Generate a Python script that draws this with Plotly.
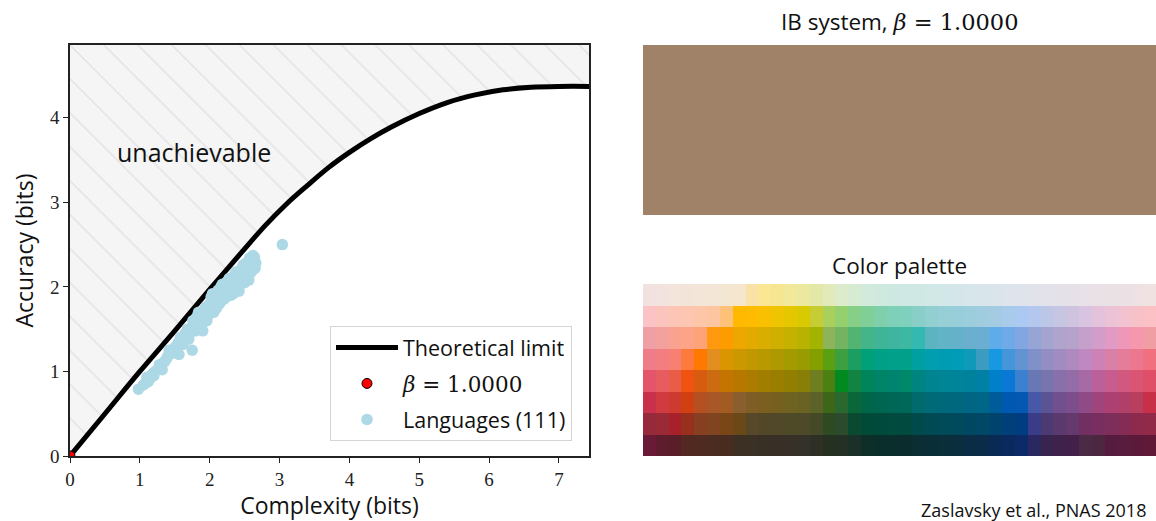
import plotly.graph_objects as go

# ---------------- data ----------------
curve_complexity = [0.0, 0.5, 1.0, 1.5, 2.0, 2.5, 2.8, 3.1, 3.4, 3.7, 4.0, 4.3, 4.6, 5.0, 5.4, 5.8, 6.2, 6.6, 7.0, 7.5]
curve_accuracy = [0.0, 0.5, 1.0, 1.48, 1.97, 2.45, 2.73, 2.98, 3.20, 3.41, 3.59, 3.75, 3.89, 4.05, 4.18, 4.27, 4.33, 4.36, 4.37, 4.37]

lang_complexity = [0.98, 1.05, 1.12, 1.10, 1.18, 1.25, 1.30, 1.33, 1.38, 1.28, 1.45, 1.50, 1.42, 1.55, 1.58, 1.62, 1.52,
                   1.75, 1.65, 1.68, 1.72, 1.78, 1.80, 1.85, 1.88, 1.90, 1.82, 1.92, 1.95, 1.98, 2.00, 2.02, 2.05, 2.08,
                   2.10, 2.12, 2.15, 2.18, 2.20, 2.22, 2.25, 2.28, 2.30, 2.32, 2.35, 2.38, 2.40, 2.42, 2.45, 2.48, 2.50,
                   2.52, 2.55, 2.58, 2.60, 2.62, 2.64, 2.66, 2.58, 2.55, 3.04, 1.15, 1.22, 1.36, 1.48, 1.60, 1.70, 1.76,
                   1.86, 1.96, 2.04, 2.06, 2.14, 2.16, 2.24, 2.26, 2.34, 2.36, 2.44, 2.46, 2.52, 2.56, 2.60, 2.63, 2.65,
                   2.50, 2.40, 2.30, 2.20, 2.10, 2.00, 1.90, 1.80, 1.70, 1.62, 1.56, 1.40, 1.32, 1.20, 1.08, 2.18, 2.28,
                   2.38, 2.48, 2.57, 2.62, 2.12, 2.02, 1.94, 1.84, 2.35]
lang_accuracy = [0.79, 0.84, 0.88, 0.93, 0.97, 1.02, 1.06, 1.10, 1.15, 1.08, 1.21, 1.28, 1.25, 1.34, 1.40, 1.38, 1.30,
                 1.25, 1.45, 1.50, 1.47, 1.52, 1.58, 1.55, 1.62, 1.48, 1.65, 1.70, 1.66, 1.75, 1.80, 1.72, 1.85, 1.78,
                 1.90, 1.83, 1.95, 1.88, 1.98, 1.92, 2.02, 1.95, 2.08, 2.00, 2.12, 2.05, 2.15, 1.95, 2.18, 2.10, 2.22,
                 2.15, 2.25, 2.20, 2.30, 2.25, 2.35, 2.28, 2.32, 2.12, 2.50, 0.92, 1.00, 1.12, 1.24, 1.36, 1.42, 1.60,
                 1.68, 1.60, 1.92, 1.70, 1.80, 2.00, 1.88, 2.06, 1.92, 2.15, 2.08, 2.22, 2.28, 2.08, 2.18, 2.32, 2.22,
                 2.05, 2.00, 1.90, 1.85, 1.75, 1.68, 1.58, 1.48, 1.38, 1.32, 1.20, 1.18, 1.02, 0.95, 0.86, 2.03, 2.10,
                 2.18, 2.26, 2.34, 2.37, 1.96, 1.88, 1.76, 1.70, 1.97]

ib_complexity = [0.0]
ib_accuracy = [0.0]
ib_system_color = "#a08269"

x_tick_values = [0, 1, 2, 3, 4, 5, 6, 7]
y_tick_values = [0, 1, 2, 3, 4]
X_MAX = 7.43
Y_MAX = 4.86

palette_row_B = ["#f1e2e0", "#f2e3df", "#f3e4dc", "#f3e4da", "#f3e5d8", "#f4e6d6", "#f3e6d3", "#f5e6cd", "#f8e2a8", "#fbe694",
                 "#f6e692", "#f2e899", "#ebe8a0", "#e3e8a6", "#e1eab8", "#dbebcb", "#d6ebd2", "#d2eadb", "#cfe9df", "#cde8e0",
                 "#cfe8e3", "#d0e8e4", "#d1e8e6", "#d2e7e8", "#d4e6ea", "#d6e6eb", "#d8e5eb", "#dae4eb", "#dde4ec", "#dfe3ec",
                 "#e1e2ea", "#e3e2ea", "#e5e1e9", "#e6e1e8", "#e8e1e7", "#e9e1e6", "#eae1e5", "#ebe1e4", "#ede1e3", "#efe2e1"]
palette_row_C = ["#fbc3c3", "#fbc4bd", "#fcc5b6", "#fcc6b0", "#fdc6a8", "#fdc5a0", "#fdc17a", "#feb900", "#ffbb00", "#f8c000",
                 "#efc400", "#e5c700", "#d8c900", "#c6cd34", "#a9cf5c", "#94d06e", "#86cf86", "#80cf98", "#7ecfaa", "#7fd0b8",
                 "#80d0be", "#8acfc7", "#92cfd0", "#96cfd6", "#98ceda", "#9ccddd", "#a0cce0", "#a4cbe2", "#a8cbec", "#acc9f3",
                 "#b4c8ef", "#bcc6e6", "#c6c5e2", "#cec4e0", "#d8c3e0", "#e4c2dc", "#ecc2d6", "#f2c2d0", "#f7c1ca", "#fbc1c4"]
palette_row_D = ["#efa0a4", "#f2a19e", "#f9a38f", "#fca485", "#fea27a", "#ff9a10", "#fd9c00", "#eea600", "#e3aa00", "#d9ae00",
                 "#cfb000", "#c5b200", "#b8b300", "#a2b400", "#8db45a", "#72b461", "#52b470", "#44b48a", "#40b596", "#3fb59f",
                 "#3db8a2", "#34b8b2", "#5cb4c0", "#62b3c6", "#66b1ca", "#6aafce", "#6caed2", "#5eacea", "#70a9e8", "#82a6e2",
                 "#96a4d6", "#a4a4d0", "#aea4cc", "#b6a3cb", "#c4a0cb", "#d29dc8", "#e09ac4", "#ee97b8", "#f598ad", "#f09ea4"]
palette_row_E = ["#f07c8a", "#f37d80", "#f78072", "#fe7a3c", "#ff7800", "#e28f20", "#da9500", "#cc9800", "#c29800", "#b89a00",
                 "#ae9a00", "#a49b00", "#999c00", "#84a000", "#5aa010", "#3ca040", "#1c9e60", "#00a07a", "#00a086", "#00a08a",
                 "#00a08a", "#00a0a0", "#009eae", "#009cb4", "#009cb8", "#109aba", "#3c9cc0", "#1898e0", "#4496d8", "#6294d2",
                 "#8090c8", "#928ec4", "#a08cc0", "#ae8abe", "#c088c0", "#cc82b4", "#d880a6", "#e47c9a", "#ec7890", "#f07080"]
palette_row_F = ["#e4556a", "#e75c5e", "#e85c48", "#f05210", "#d85c10", "#cc6c10", "#c47400", "#b87800", "#ac7c00", "#a27e00",
                 "#9a7e00", "#927e00", "#887e08", "#6e7e20", "#4c8010", "#008a20", "#108440", "#00845c", "#008468", "#008470",
                 "#00886a", "#008480", "#008490", "#008496", "#00849a", "#00829c", "#0080a4", "#0080c8", "#0a78d4", "#3c80d0",
                 "#6878b4", "#7874ae", "#8870aa", "#946ca8", "#a86aa4", "#bc609a", "#c85c8e", "#d25880", "#da5474", "#e04f68"]
palette_row_G = ["#c8304c", "#d03a40", "#cc3a30", "#d04010", "#b45022", "#a85828", "#a25c22", "#8a5f30", "#7e5e24", "#7a5f20",
                 "#766020", "#706220", "#6a6222", "#5c6328", "#3e6618", "#2a6830", "#0a6838", "#006648", "#006650", "#006656",
                 "#006858", "#006a6c", "#006a76", "#00687a", "#00687e", "#006684", "#006688", "#005c98", "#0058b0", "#0458b2",
                 "#4858a8", "#5a5494", "#725090", "#7c4e8c", "#904a86", "#a0447c", "#ac4072", "#b04068", "#b8405e", "#c8304a"]
palette_row_H = ["#962a3a", "#9a2a36", "#a8202a", "#983020", "#883e20", "#804420", "#7a4618", "#6a4818", "#564828", "#524828",
                 "#504828", "#4e4a28", "#4c4a28", "#444a28", "#2e4a20", "#2c4a2c", "#0a4a30", "#004a38", "#004a3c", "#004a3e",
                 "#004a40", "#004a4c", "#004a54", "#004a5a", "#004a5e", "#004862", "#004866", "#00446e", "#004078", "#003c80",
                 "#3a3c8a", "#4c3a72", "#5a3a6e", "#643a6c", "#722f62", "#782e5e", "#7e2e5a", "#842c56", "#8c2a4e", "#902a48"]
palette_row_I = ["#6a1a36", "#5e1c2c", "#5a1e28", "#542822", "#4e2a20", "#4a2c20", "#482c20", "#3c3024", "#3a3024", "#383024",
                 "#383026", "#363028", "#34302a", "#2e3026", "#263020", "#243024", "#1a3028", "#0e2e28", "#0a2e2a", "#0a2e2c",
                 "#0a2c2c", "#0a2e34", "#0a2e38", "#0a2e3a", "#0a2e3e", "#0a2c44", "#0a2c48", "#0a2a56", "#0a2a5e", "#0c2a68",
                 "#2a2860", "#38244e", "#3e224c", "#42204a", "#4a2a44", "#4c2840", "#561c40", "#581c3e", "#5c1a3a", "#601a38"]

palette_rows = [palette_row_B, palette_row_C, palette_row_D, palette_row_E,
                palette_row_F, palette_row_G, palette_row_H, palette_row_I]

# ---------------- figure ----------------
SANS = "Open Sans"
SERIF = "Liberation Serif"
MATH = "DejaVu Serif"

def beta_html():
    return f"<span style='font-family:{MATH}'><i>β</i> = 1.0000</span>"

fig = go.Figure()

# hatched unachievable region
fig.add_trace(go.Scatter(
    x=curve_complexity + [X_MAX + 0.1, 0.0], y=curve_accuracy + [Y_MAX + 0.1, Y_MAX + 0.1],
    fill="toself", mode="lines", line=dict(width=0, color="rgba(0,0,0,0)"),
    fillcolor="#f5f5f5",
    fillpattern=dict(shape="\\", bgcolor="#f5f5f5", fgcolor="#cfcfcf", size=24, solidity=0.06),
    showlegend=False, hoverinfo="skip", xaxis="x", yaxis="y"))

fig.add_trace(go.Scatter(
    x=curve_complexity, y=curve_accuracy, mode="lines", line=dict(color="black", width=5, shape="spline"),
    name="Theoretical limit", legendgroup="a", legendrank=1, xaxis="x", yaxis="y"))

fig.add_trace(go.Scatter(
    x=lang_complexity, y=lang_accuracy, mode="markers",
    marker=dict(color="#add8e6", size=11.5, line=dict(width=0)),
    name="Languages (111)", legendgroup="c", legendrank=3, xaxis="x", yaxis="y"))

fig.add_trace(go.Scatter(
    x=ib_complexity, y=ib_accuracy, mode="markers",
    marker=dict(color="#ff0000", size=10, line=dict(color="black", width=1)),
    name=beta_html(), legendgroup="b", legendrank=2, xaxis="x", yaxis="y"))

# IB system colour block
fig.add_trace(go.Heatmap(
    z=[[0]], colorscale=[[0, ib_system_color], [1, ib_system_color]], zmin=0, zmax=1,
    showscale=False, hoverinfo="skip", xaxis="x2", yaxis="y2"))

# colour palette grid
n_rows = len(palette_rows)
n_cols = len(palette_rows[0])
flat_colors = [c for row in palette_rows for c in row]
n_total = len(flat_colors)
palette_scale = [[i / (n_total - 1), c] for i, c in enumerate(flat_colors)]
palette_z = [[r * n_cols + c for c in range(n_cols)] for r in range(n_rows)]
fig.add_trace(go.Heatmap(
    z=palette_z, colorscale=palette_scale, zmin=0, zmax=n_total - 1,
    showscale=False, hoverinfo="skip", xaxis="x3", yaxis="y3"))

W, H = 1156, 521
def px_x(p): return p / W
def px_y(p): return (H - p) / H

axis_font = dict(family=SERIF, size=19, color="#222")
fig.update_layout(
    width=W, height=H, margin=dict(l=0, r=0, t=0, b=0, autoexpand=False),
    paper_bgcolor="white", plot_bgcolor="white",
    font=dict(family=SANS, size=20, color="#111"),
    xaxis=dict(domain=[px_x(70), px_x(589)], range=[0, X_MAX], tickvals=x_tick_values,
               ticks="outside", ticklen=5, tickwidth=1.2, tickcolor="#222",
               showline=True, mirror=True, linecolor="#222", linewidth=1.5,
               showgrid=False, zeroline=False, tickfont=axis_font, automargin=False,
               title=dict(text="Complexity (bits)", font=dict(family=SANS, size=23), standoff=8)),
    yaxis=dict(domain=[px_y(456), px_y(45)], range=[0, Y_MAX], tickvals=y_tick_values,
               ticks="outside", ticklen=5, tickwidth=1.2, tickcolor="#222",
               showline=True, mirror=True, linecolor="#222", linewidth=1.5,
               showgrid=False, zeroline=False, tickfont=axis_font, automargin=False,
               title=dict(text="Accuracy (bits)", font=dict(family=SANS, size=23), standoff=10)),
    xaxis2=dict(domain=[px_x(643), 1.0], range=[-0.5, 0.5], visible=False, anchor="y2"),
    yaxis2=dict(domain=[px_y(215), px_y(45)], range=[-0.5, 0.5], visible=False, anchor="x2"),
    xaxis3=dict(domain=[px_x(643), 1.0], range=[-0.5, n_cols - 0.5], visible=False, anchor="y3"),
    yaxis3=dict(domain=[px_y(456), px_y(284)], range=[n_rows - 0.5, -0.5], visible=False, anchor="x3"),
    legend=dict(x=px_x(330), y=px_y(326), xanchor="left", yanchor="top",
                bgcolor="rgba(255,255,255,0.85)", bordercolor="#d4d4d4", borderwidth=1,
                font=dict(family=SANS, size=21.5, color="#111"), tracegroupgap=5,
                itemwidth=62, traceorder="grouped"),
    showlegend=True,
)

fig.add_annotation(text="unachievable", x=1.78, y=3.59, xref="x", yref="y",
                   xanchor="center", yanchor="middle",
                   showarrow=False, font=dict(family=SANS, size=25, color="#111"))
fig.add_annotation(text="IB system, " + beta_html(), x=px_x(899), y=px_y(22), xref="paper", yref="paper",
                   xanchor="center", yanchor="middle",
                   showarrow=False, font=dict(family=SANS, size=22.5, color="#111"))
fig.add_annotation(text="Color palette", x=px_x(899), y=px_y(265), xref="paper", yref="paper",
                   xanchor="center", yanchor="middle",
                   showarrow=False, font=dict(family=SANS, size=22.5, color="#111"))
fig.add_annotation(text="Zaslavsky et al., PNAS 2018", x=px_x(1148), y=px_y(510), xref="paper", yref="paper",
                   xanchor="right", yanchor="middle", showarrow=False,
                   font=dict(family=SANS, size=18, color="#111"))

fig.write_html("out.html")
